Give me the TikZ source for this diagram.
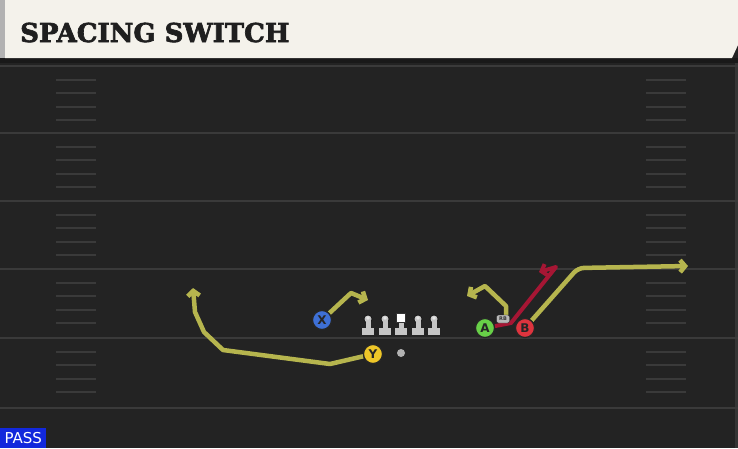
\documentclass[tikz,border=0pt]{standalone}
\usepackage{fontspec}
\setmainfont{DejaVu Sans}
\newfontfamily\titlefont[FakeBold=2.5]{DejaVu Serif}
\usetikzlibrary{arrows.meta}

\definecolor{field}{RGB}{35,35,35}
\definecolor{yardline}{RGB}{58,58,58}
\definecolor{hashline}{RGB}{58,58,58}
\definecolor{cream}{RGB}{244,242,235}
\definecolor{routeyellow}{RGB}{182,181,78}
\definecolor{routered}{RGB}{166,22,52}
\definecolor{passblue}{RGB}{18,40,220}

\pgfdeclarelayer{bg}
\pgfdeclarelayer{routes}
\pgfsetlayers{bg,routes,main}

\tikzset{
  every node/.style={inner sep=0pt},
  player/.style={circle,draw=black!85,line width=1.2pt,minimum size=19pt,
    font=\bfseries\fontsize{12}{12}\selectfont,text=black!85},
  pblue/.style={fill={rgb,255:red,62;green,112;blue,214}},
  pyellow/.style={fill={rgb,255:red,238;green,198;blue,40}},
  pgreen/.style={fill={rgb,255:red,104;green,208;blue,72}},
  pred/.style={fill={rgb,255:red,222;green,52;blue,62}},
  route/.style={line width=4.5pt,routeyellow,line join=round,
    -{Straight Barb[length=5pt,width=12pt]}},
  redroute/.style={route,routered,line width=4pt},
  lineman/.pic={
    \fill[black!80!gray] (0,-7) circle (4.5);
    \fill[gray!45] (-2.5,-6) rectangle (2.5,3);
    \fill[gray!45] (-6,2) rectangle (6,8.5);
    \fill[gray!45] (0,-7) circle (3.5);
    \fill[gray!20] (0,-8) circle (1.8);
  },
  centerman/.pic={
    \fill[gray!45] (-2.5,-5) rectangle (2.5,3);
    \fill[gray!45] (-6,2) rectangle (6,8.5);
    \fill[white,draw=black!80,line width=0.8pt] (-4.5,-13) rectangle (4.5,-4);
  }
}

\begin{document}
\begin{tikzpicture}[x=1pt,y=-1pt]
  \useasboundingbox (0,0) rectangle (738,448);

  \begin{pgfonlayer}{bg}
    % field
    \fill[field] (0,0) rectangle (738,448);
    \fill[field!92!white] (735,63) rectangle (738,448);
    \foreach \y in {66,133,201,269,338,408}
      \draw[yardline,line width=2.2pt] (0,\y) -- (738,\y);
    \foreach \y in {66,133,201,269,338}
      \foreach \k in {1,...,4} {
        \draw[hashline,line width=2pt] (56,\y+\k*13.6) -- (96,\y+\k*13.6);
        \draw[hashline,line width=2pt] (646,\y+\k*13.6) -- (686,\y+\k*13.6);
      }
    % title bar
    \fill[black!90] (0,58) rectangle (738,63);
    \fill[cream] (5,0) -- (738,0) -- (738,45) -- (732,58) -- (5,58) -- cycle;
    \fill[gray!60] (0,0) rectangle (5,58);
  \end{pgfonlayer}

  \node[anchor=base west,text=black!88,
    font=\titlefont\bfseries\fontsize{26}{26}\selectfont] (title) at (20,42) {SPACING SWITCH};

  % line
  \foreach \x in {368,385,418,434}
    \pic at (\x,326) {lineman};
  \pic at (401,326) {centerman};
  \node[circle,fill=gray!60,minimum size=8pt] (ball) at (401,353) {};

  % players
  \node[player,pblue] (X) at (322,320) {X};
  \node[player,pyellow] (Y) at (373,354) {Y};
  \node[player,pgreen] (A) at (485,328) {A};
  \node[player,pred] (B) at (525,328) {B};
  \node[draw=black!85,fill=gray!55,rounded corners=2pt,minimum width=13pt,minimum height=8pt,
    font=\bfseries\fontsize{5}{5}\selectfont,text=black!80] (RB) at (503,319) {RB};

  % routes
  \begin{pgfonlayer}{routes}
    \draw[route] (X) -- (351,293) -- (368,300);
    \draw[route] (Y) -- (330,364) -- (223,350) -- (204,332) -- (195,312) -- (193,288);
    \draw[route] ([xshift=3pt]RB.north) -- (506,306) -- (485,286) -- (467,296);
    \draw[redroute] (A) -- (511,323) -- (556,267) -- (539,272);
    \draw[route,rounded corners=6pt] (B) -- (578,268) -- (688,266);
  \end{pgfonlayer}

  % play type
  \node[fill=passblue,text=white,anchor=south west,minimum width=46pt,minimum height=20pt,
    font=\fontsize{15}{15}\selectfont] (pass) at (0,448) {PASS};
\end{tikzpicture}
\end{document}
